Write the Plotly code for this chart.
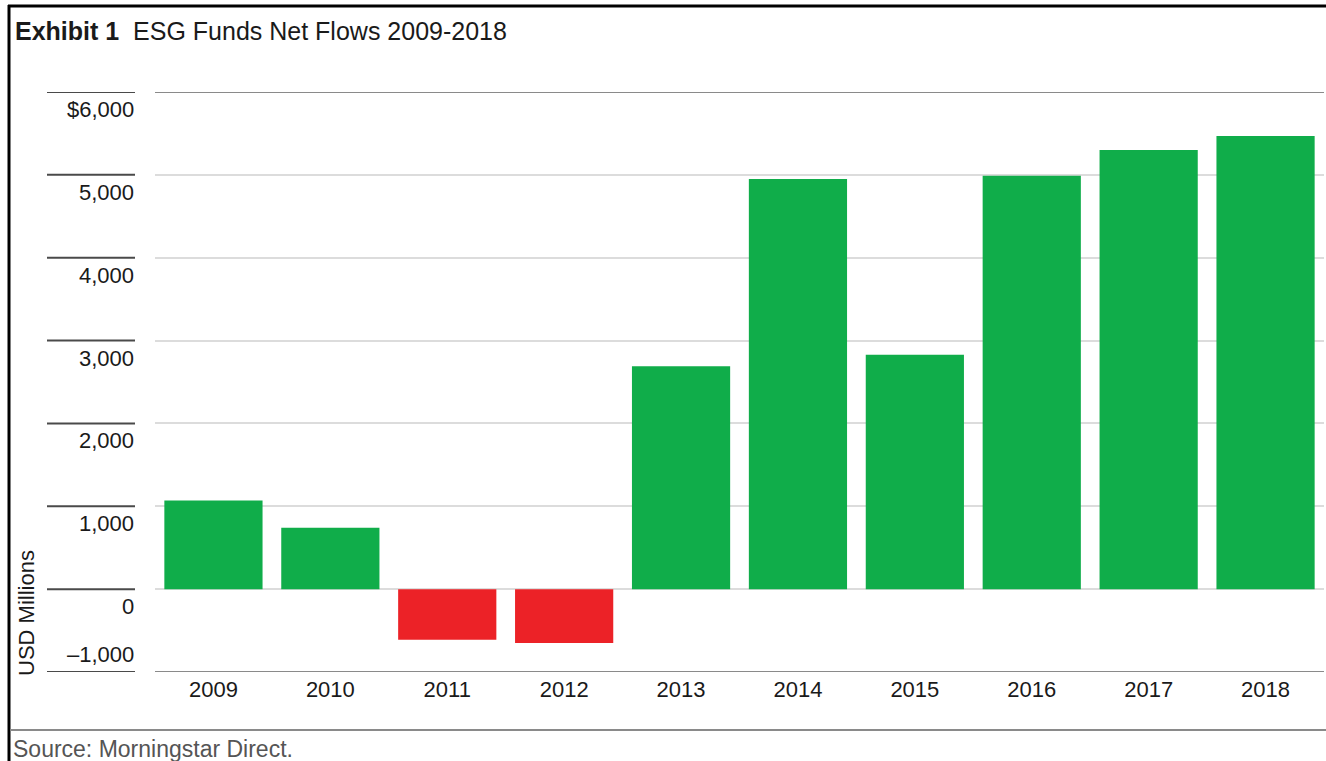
import plotly.graph_objects as go

years = ["2009", "2010", "2011", "2012", "2013", "2014", "2015", "2016", "2017", "2018"]
net_flows = [1070, 740, -610, -650, 2690, 4950, 2830, 4990, 5300, 5470]
tick_vals = [6000, 5000, 4000, 3000, 2000, 1000, 0, -1000]
tick_text = ["$6,000", "5,000", "4,000", "3,000", "2,000", "1,000", "0", "\u20131,000"]

GREEN = "#10ad4a"
RED = "#ec2227"
W, H = 1326, 761
L, R, T, B = 155, 2, 92, 89
PW = W - L - R
PH = H - T - B
FONT = "Liberation Sans, Arial, sans-serif"


def px(x):
    return (x - L) / PW


def py(y):
    return (H - B - y) / PH


colors = [GREEN if v >= 0 else RED for v in net_flows]

fig = go.Figure(go.Bar(x=years, y=net_flows, marker=dict(color=colors, line=dict(width=0)),
                       hoverinfo="x+y"))

shapes = []
# left tick segments
for v in tick_vals:
    shapes.append(dict(type="line", xref="paper", yref="y", x0=px(47), x1=px(135), y0=v, y1=v,
                       line=dict(color="#4a4a4a", width=2)))
# darker top/bottom lines in plot
for v in [6000, -1000]:
    shapes.append(dict(type="line", xref="paper", yref="y", x0=0, x1=1, y0=v, y1=v,
                       line=dict(color="#8a8a8a", width=2)))
# frame
shapes.append(dict(type="line", xref="paper", yref="paper", x0=px(9), x1=px(9), y0=py(5), y1=py(770),
                   line=dict(color="#000000", width=3)))
shapes.append(dict(type="line", xref="paper", yref="paper", x0=px(8), x1=px(1330), y0=py(6), y1=py(6),
                   line=dict(color="#000000", width=3)))
shapes.append(dict(type="line", xref="paper", yref="paper", x0=px(10), x1=px(1330), y0=py(730), y1=py(730),
                   line=dict(color="#8a8a8a", width=2)))

annotations = []
for v, t in zip(tick_vals, tick_text):
    bottom = v == min(tick_vals)
    annotations.append(dict(xref="paper", yref="y", x=px(136), y=v, xanchor="right",
                            yanchor="bottom" if bottom else "top",
                            yshift=3 if bottom else -3, text=t, showarrow=False,
                            font=dict(family=FONT, size=22, color="#1a1a1a")))
annotations.append(dict(xref="paper", yref="paper", x=px(13), y=py(31), xanchor="left", yanchor="middle",
                        text="<b>Exhibit 1</b>\u00a0\u00a0ESG Funds Net Flows 2009-2018", showarrow=False,
                        font=dict(family=FONT, size=25, color="#1a1a1a")))
annotations.append(dict(xref="paper", yref="paper", x=px(11), y=py(749), xanchor="left", yanchor="middle",
                        text="Source: Morningstar Direct.", showarrow=False,
                        font=dict(family=FONT, size=23, color="#555555")))
annotations.append(dict(xref="paper", yref="paper", x=px(26), y=py(613), xanchor="center", yanchor="middle",
                        text="USD Millions", textangle=-90, showarrow=False,
                        font=dict(family=FONT, size=22, color="#1a1a1a")))

fig.update_layout(
    width=W, height=H,
    margin=dict(l=L, r=R, t=T, b=B, pad=0),
    paper_bgcolor="white", plot_bgcolor="white",
    bargap=0.16,
    showlegend=False,
    shapes=shapes,
    annotations=annotations,
    xaxis=dict(type="category", showgrid=False, showline=False, ticks="",
               tickfont=dict(family=FONT, size=22, color="#1a1a1a"),
               ticklabelstandoff=2),
    yaxis=dict(range=[-1000, 6000], tickvals=tick_vals, showticklabels=False, showgrid=True,
               gridcolor="#dcdcdc", gridwidth=2, zeroline=True, zerolinecolor="#dcdcdc", zerolinewidth=2,
               showline=False, ticks=""),
)

fig.write_html("out.html")
